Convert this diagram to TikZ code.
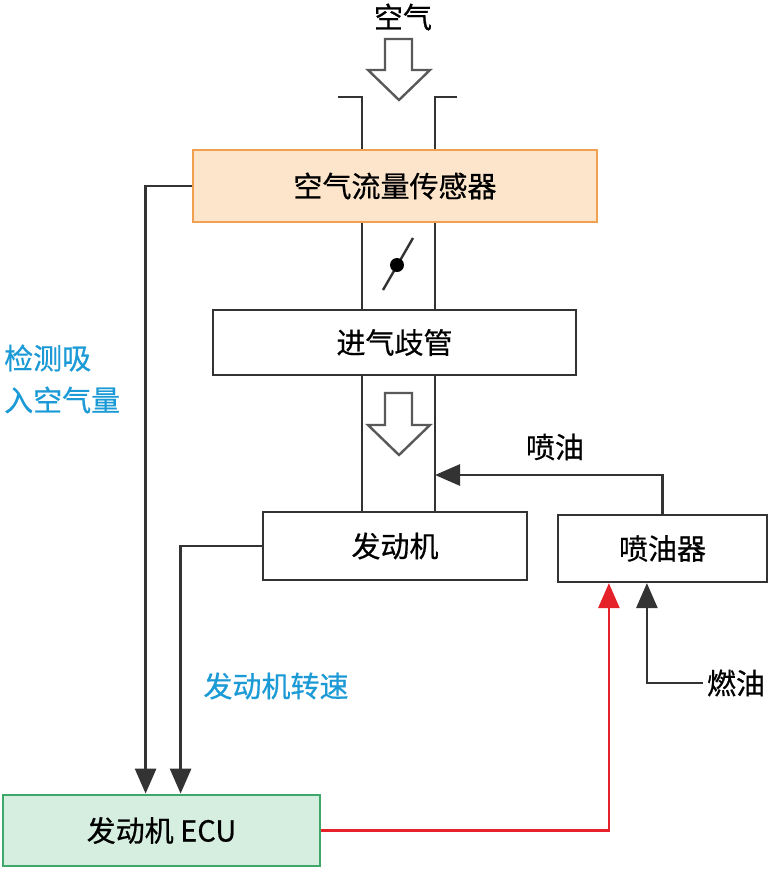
\documentclass[tikz,border=0pt]{standalone}
\usepackage{fontspec}
\setmainfont{Noto Sans CJK SC}[FakeBold=0.6]
\usetikzlibrary{arrows.meta,calc}
\definecolor{lineg}{HTML}{333333}
\definecolor{orfill}{HTML}{FDE5CB}
\definecolor{ordraw}{HTML}{F0A050}
\definecolor{grfill}{HTML}{D5EEDF}
\definecolor{grdraw}{HTML}{3DA86A}
\definecolor{bluet}{HTML}{1C9AD6}
\definecolor{redl}{HTML}{E5222A}
\tikzset{
  box/.style={draw=lineg, line width=2.2pt, fill=white, inner sep=0pt, font=\fontsize{29}{34}\selectfont, text=black},
  conn/.style={draw=lineg, line width=2.8pt},
  arr/.style={conn, -{Triangle[width=21pt,length=25pt]}},
  wall/.style={draw=lineg, line width=2.8pt},
  hollow/.style={draw=black!65, line width=2.4pt, fill=white, line join=miter},
  lbl/.style={font=\fontsize{29}{36}\selectfont, text=black, inner sep=0pt},
  blbl/.style={font=\fontsize{29}{42}\selectfont, text=bluet, inner sep=0pt, align=left}
}
\begin{document}
\begin{tikzpicture}[x=1pt,y=-1pt]
\useasboundingbox (0,0) rectangle (770,871);
% pipe walls
\draw[wall] (338,97) -- (362,97) -- (362,150);
\draw[wall] (457,97) -- (435,97) -- (435,150);
\draw[wall] (362,222) -- (362,310);
\draw[wall] (435,222) -- (435,310);
\draw[wall] (362,375) -- (362,512);
\draw[wall] (435,375) -- (435,512);
% boxes
\node[box, draw=ordraw, line width=2.8pt, fill=orfill, minimum width=404pt, minimum height=72pt] (sensor) at (395,186) {空气流量传感器};
\node[box, minimum width=363pt, minimum height=65pt] (manifold) at (394.5,342.5) {进气歧管};
\node[box, minimum width=264pt, minimum height=68pt] (engine) at (395,546) {发动机};
\node[box, minimum width=209pt, minimum height=67pt] (injector) at (662.5,548.5) {喷油器};
\node[box, draw=grdraw, line width=2.8pt, fill=grfill, minimum width=317pt, minimum height=71pt] (ecu) at (161.5,830.5) {发动机 ECU};
% labels
\node[lbl] (air) at (403,17) {空气};
\node[lbl] (spray) at (555,447) {喷油};
\node[lbl] (fuel) at (736,683) {燃油};
\node[blbl, anchor=west] (detect) at (4,379) {检测吸\\入空气量};
\node[blbl] (rpm) at (276,686) {发动机转速};
% hollow arrows
\draw[hollow] (385,39) -- (412,39) -- (412,70) -- (430,70) -- (399,100) -- (368,70) -- (385,70) -- cycle;
\draw[hollow] (385,393) -- (412,393) -- (412,425) -- (430,425) -- (399,455) -- (368,425) -- (385,425) -- cycle;
% throttle
\draw[line width=2.4pt, lineg] (383,290) -- (413,238);
\fill[black] (397,265) circle (7pt);
% connectors
\coordinate (pipeR) at (435,475);
\coordinate (fuelend) at (703,683);
\draw[arr] (sensor.west) -| ([xshift=144pt]ecu.north west);
\draw[arr] (engine.west) -| ([xshift=179pt]ecu.north west);
\draw[arr] (injector.north) |- (pipeR);
\draw[arr] (fuelend) -| ([xshift=90pt]injector.south west);
\draw[arr, color=redl] (ecu.east) -| ([xshift=52pt]injector.south west);
\end{tikzpicture}
\end{document}
